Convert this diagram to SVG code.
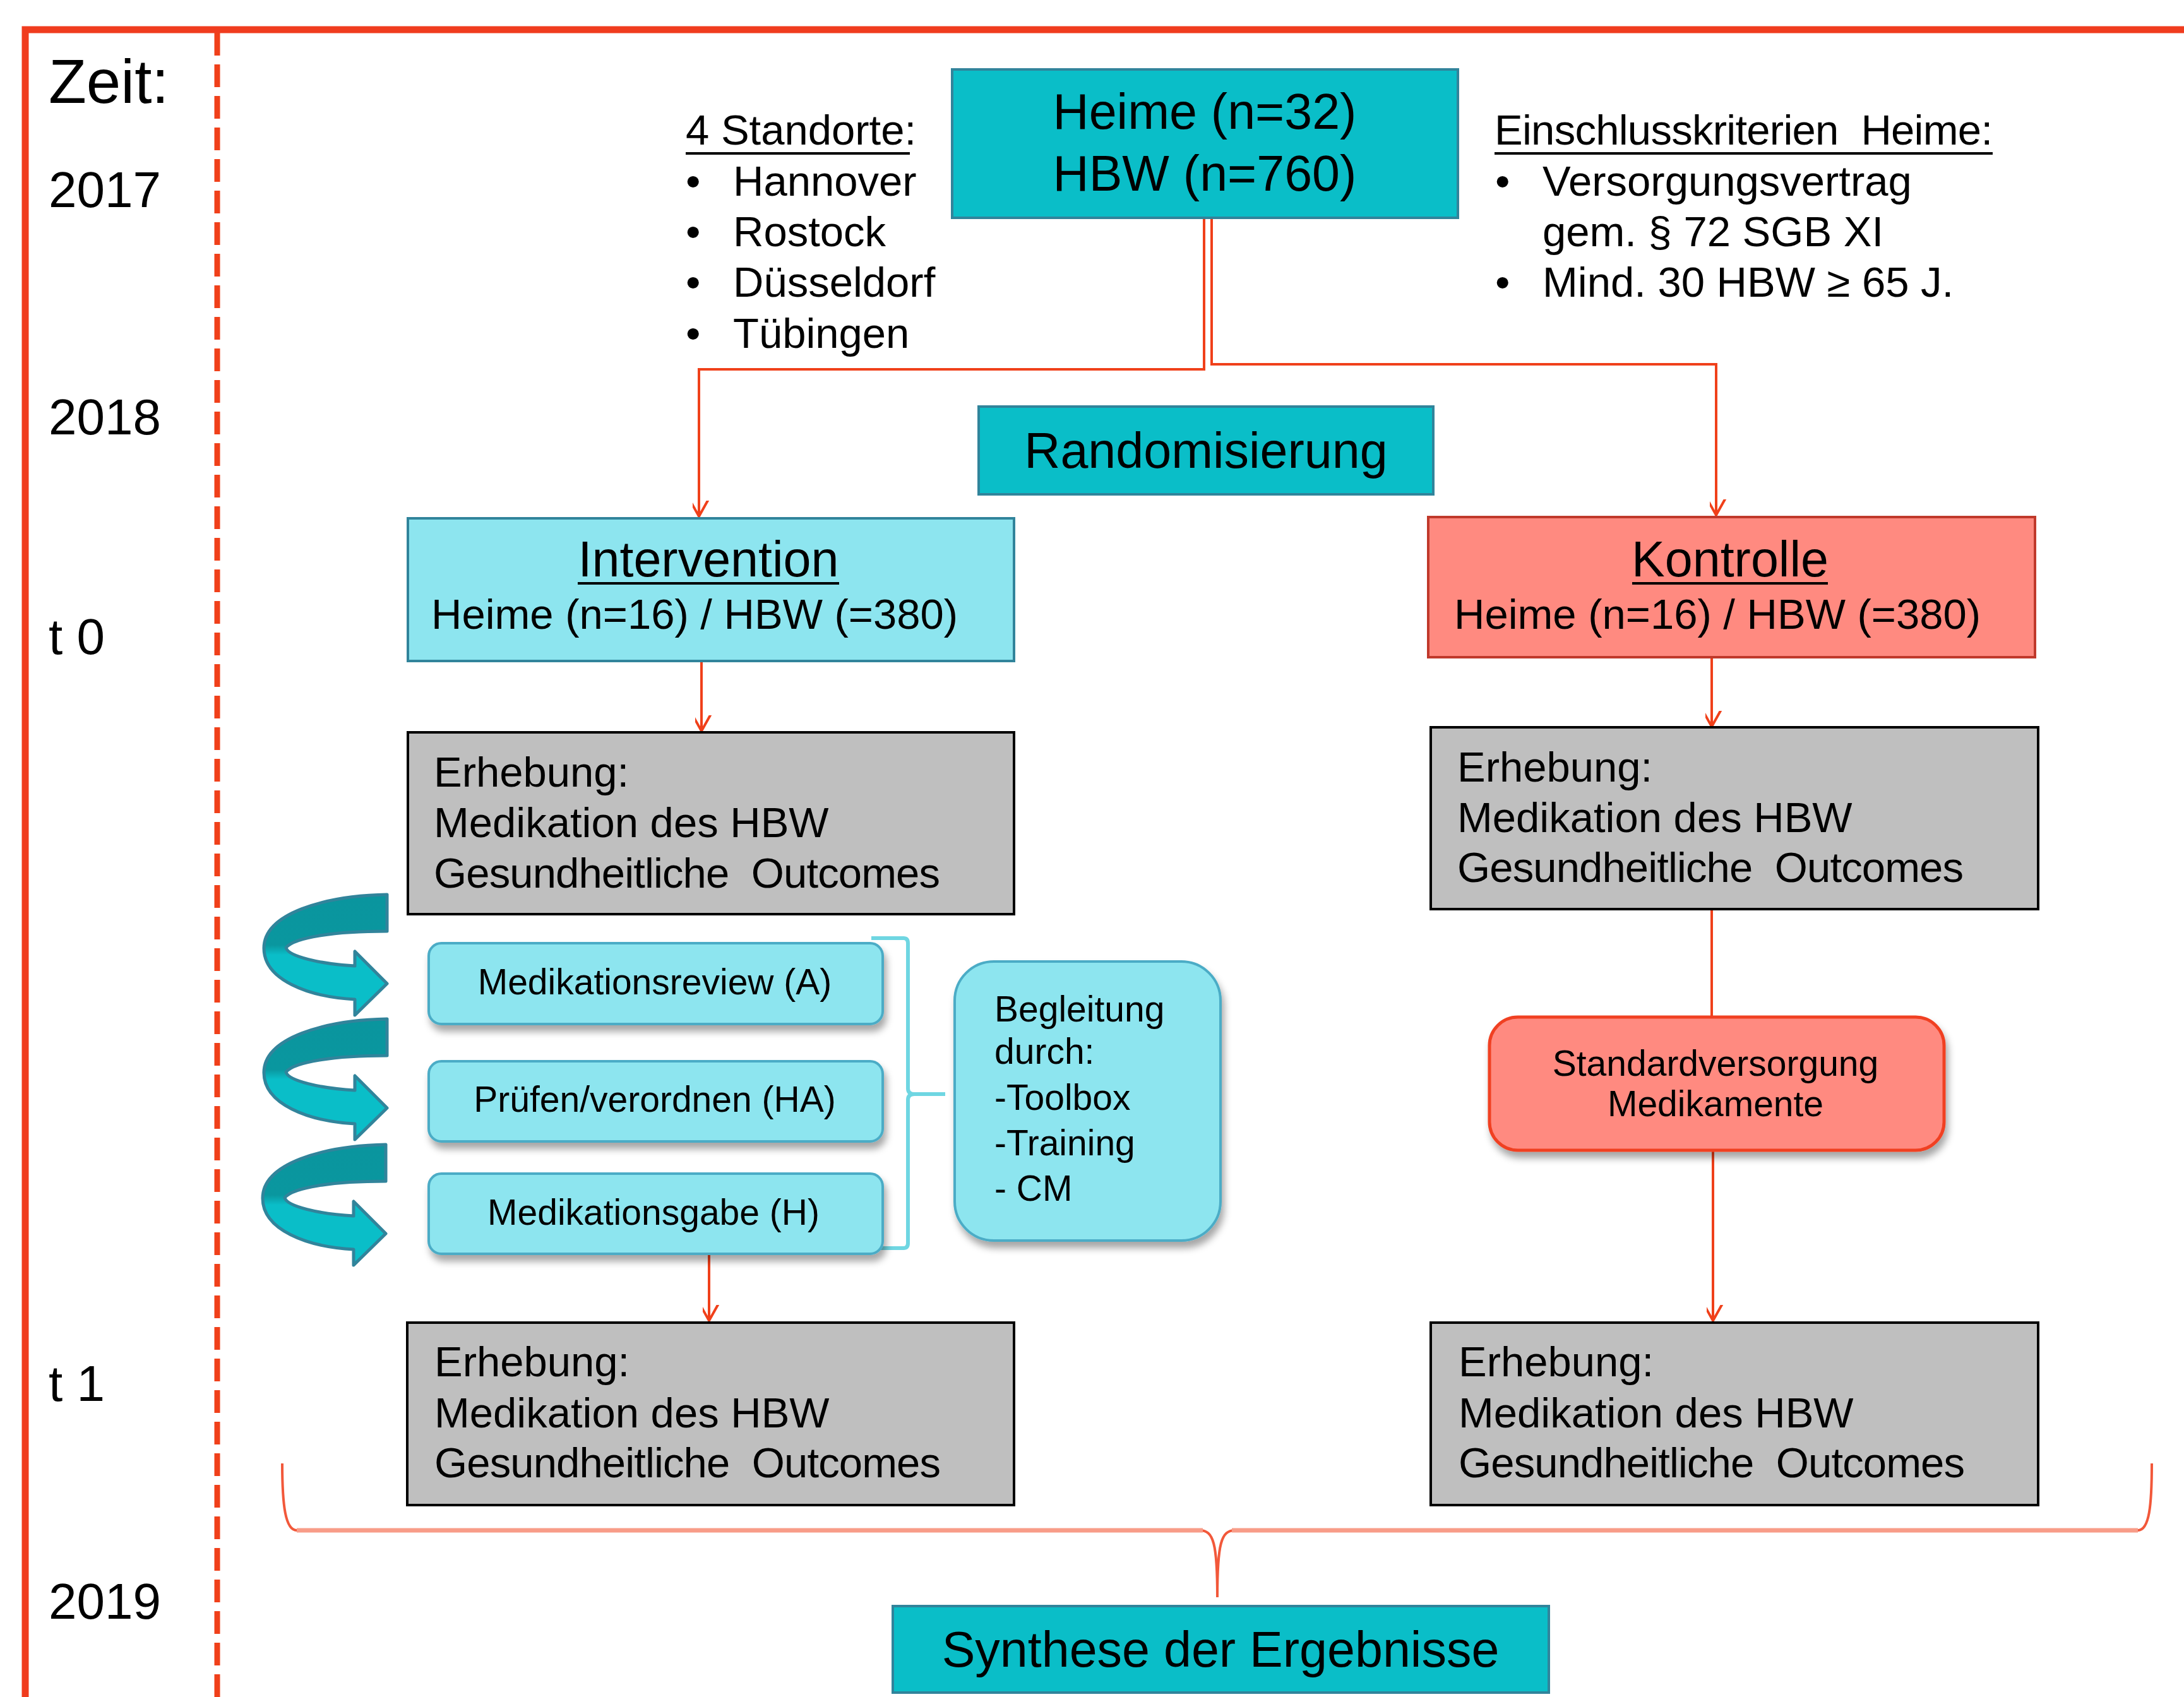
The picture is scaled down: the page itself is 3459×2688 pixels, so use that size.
<svg xmlns="http://www.w3.org/2000/svg" width="3459" height="2688" viewBox="0 0 3459 2688" xml:space="preserve">
<style>
text{font-family:"Liberation Sans",Arial,sans-serif;fill:#000;white-space:pre}
.yr{font-size:80px}
.big{font-size:79px}
.mid{font-size:67px}
.sm{font-size:57px}
.mc{text-anchor:middle}
.teal{fill:#0ABEC8;stroke:#31849B;stroke-width:4}
.grey{fill:#BFBFBF;stroke:#000;stroke-width:4}
.lt{fill:#8DE5EF;stroke:#31849B;stroke-width:4}
.rnd{fill:#8DE5EF;stroke:#4BACC6;stroke-width:4}
.con{fill:none;stroke:#F0401A;stroke-width:4}
.ul{stroke:#000;stroke-width:4}
</style>
<defs>
<marker id="ah" markerUnits="userSpaceOnUse" markerWidth="50" markerHeight="50" viewBox="-25 -40 50 50" refX="0" refY="0" orient="auto-start-reverse">
<path d="M-20,-36 L0,0 L20,-36" fill="none" stroke="#F0401A" stroke-width="4" transform="rotate(-90)"/>
</marker>
<filter id="sh" x="-10%" y="-10%" width="130%" height="140%">
<feDropShadow dx="4" dy="10" stdDeviation="6" flood-color="#000" flood-opacity="0.35"/>
</filter>
<linearGradient id="ag" x1="0" y1="0" x2="0" y2="1">
<stop offset="0" stop-color="#0A959E"/>
<stop offset="0.42" stop-color="#0A979F"/>
<stop offset="0.5" stop-color="#0ABEC8"/>
<stop offset="1" stop-color="#0ABEC8"/>
</linearGradient>
<path id="carrow" d="M195,0 C95,2 0,30 0,85 C0,135 70,162 144,166 L144,191 L195,141 L144,90 L144,113 C90,110 38,98 35,84 C48,68 110,58 195,58 Z" fill="url(#ag)" stroke="#31849B" stroke-width="5" stroke-linejoin="round"/>
</defs>
<rect width="3459" height="2688" fill="#fff"/>

<g id="frame">
<path d="M40,2688 V47 H3459" fill="none" stroke="#F03C1E" stroke-width="11"/>
<line x1="344" y1="52" x2="344" y2="2688" stroke="#F0401A" stroke-width="9" stroke-dasharray="36 14"/>
</g>

<g id="timeline">
<text x="77" y="163" style="font-size:98px">Zeit:</text>
<text class="yr" x="77" y="328">2017</text>
<text class="yr" x="77" y="688">2018</text>
<text class="yr" x="77" y="1036">t 0</text>
<text class="yr" x="77" y="2219">t 1</text>
<text class="yr" x="77" y="2564">2019</text>
</g>

<g id="connectors">
<path class="con" d="M1907,345 V585 H1107 V818" marker-end="url(#ah)"/>
<path class="con" d="M1919,345 V577 H2718 V816" marker-end="url(#ah)"/>
<path class="con" d="M1111,1047 V1158" marker-end="url(#ah)"/>
<path class="con" d="M2711,1041 V1151" marker-end="url(#ah)"/>
<path class="con" d="M2711,1440 V1611"/>
<path class="con" d="M2713,1822 V2092" marker-end="url(#ah)"/>
<path class="con" d="M1123,1986 V2092" marker-end="url(#ah)"/>
<path d="M1380,1486 H1431 Q1438,1486 1438,1494 V1724 Q1438,1733 1448,1733 H1497 M1448,1733 Q1438,1733 1438,1742 V1969 Q1438,1977 1431,1977 H1380" fill="none" stroke="#6FD6E2" stroke-width="6"/>
<path d="M447,2318 C447,2385 452,2424 470,2424 H1900 C1922,2424 1928,2445 1928,2530 C1928,2445 1934,2424 1956,2424 H3386 C3404,2424 3408,2385 3408,2318" fill="none" stroke="#F2583A" stroke-width="4"/>
<path d="M470,2424 H1905 M1951,2424 H3386" fill="none" stroke="#F89C88" stroke-width="7"/>
</g>

<g id="standorte">
<text class="mid" x="1086" y="229">4 Standorte:</text>
<line class="ul" x1="1086" y1="243" x2="1441" y2="243"/>
<text class="mid" x="1086" y="310">•</text><text class="mid" x="1161" y="310">Hannover</text>
<text class="mid" x="1086" y="390">•</text><text class="mid" x="1161" y="390">Rostock</text>
<text class="mid" x="1086" y="470">•</text><text class="mid" x="1161" y="470">Düsseldorf</text>
<text class="mid" x="1086" y="551">•</text><text class="mid" x="1161" y="551">Tübingen</text>
</g>

<g id="kriterien">
<text class="mid" x="2367" y="229" textLength="789" lengthAdjust="spacing">Einschlusskriterien  Heime:</text>
<line class="ul" x1="2367" y1="243" x2="3156" y2="243"/>
<text class="mid" x="2368" y="310">•</text><text class="mid" x="2443" y="310">Versorgungsvertrag</text>
<text class="mid" x="2443" y="390">gem. § 72 SGB XI</text>
<text class="mid" x="2368" y="470">•</text><text class="mid" x="2443" y="470">Mind. 30 HBW ≥ 65 J.</text>
</g>

<g id="heime">
<rect class="teal" x="1508" y="110" width="801" height="235"/>
<text class="big mc" x="1908" y="204">Heime (n=32)</text>
<text class="big mc" x="1908" y="302">HBW (n=760)</text>
</g>

<g id="randomisierung">
<rect class="teal" x="1550" y="644" width="720" height="139"/>
<text class="big mc" x="1910" y="741">Randomisierung</text>
</g>

<g id="intervention">
<rect class="lt" x="646" y="821" width="960" height="226"/>
<text class="big mc" x="1122" y="913">Intervention</text>
<line class="ul" x1="915" y1="924" x2="1329" y2="924"/>
<text class="mid" x="683" y="996">Heime (n=16) / HBW (=380)</text>
</g>

<g id="kontrolle">
<rect x="2262" y="819" width="961" height="222" fill="#FF8A80" stroke="#C0392B" stroke-width="4"/>
<text class="big mc" x="2740" y="913">Kontrolle</text>
<line class="ul" x1="2585" y1="924" x2="2895" y2="924"/>
<text class="mid" x="2303" y="996">Heime (n=16) / HBW (=380)</text>
</g>

<g id="erhebung-i-t0">
<rect class="grey" x="646" y="1160" width="960" height="288"/>
<text class="mid" x="687" y="1246">Erhebung:</text>
<text class="mid" x="687" y="1326">Medikation des HBW</text>
<text class="mid" x="687" y="1406" textLength="802" lengthAdjust="spacing">Gesundheitliche  Outcomes</text>
</g>

<g id="erhebung-k-t0">
<rect class="grey" x="2266" y="1152" width="962" height="288"/>
<text class="mid" x="2308" y="1238">Erhebung:</text>
<text class="mid" x="2308" y="1318">Medikation des HBW</text>
<text class="mid" x="2308" y="1397" textLength="802" lengthAdjust="spacing">Gesundheitliche  Outcomes</text>
</g>

<g id="kreislauf">
<use href="#carrow" x="418" y="1417"/>
<use href="#carrow" x="418" y="1614"/>
<use href="#carrow" x="416" y="1813"/>
</g>

<g id="medikationsreview">
<rect class="rnd" x="679" y="1494" width="719" height="128" rx="20" filter="url(#sh)"/>
<text class="sm mc" x="1037" y="1575">Medikationsreview (A)</text>
</g>
<g id="pruefen">
<rect class="rnd" x="679" y="1681" width="719" height="127" rx="20" filter="url(#sh)"/>
<text class="sm mc" x="1037" y="1761">Prüfen/verordnen (HA)</text>
</g>
<g id="medikationsgabe">
<rect class="rnd" x="679" y="1859" width="719" height="127" rx="20" filter="url(#sh)"/>
<text class="sm mc" x="1035" y="1940">Medikationsgabe (H)</text>
</g>

<g id="begleitung">
<rect class="rnd" x="1512" y="1523" width="421" height="442" rx="62" filter="url(#sh)"/>
<text class="sm" x="1575" y="1618">Begleitung</text>
<text class="sm" x="1575" y="1685">durch:</text>
<text class="sm" x="1575" y="1758">-Toolbox</text>
<text class="sm" x="1575" y="1830">-Training</text>
<text class="sm" x="1575" y="1902">- CM</text>
</g>

<g id="standardversorgung">
<rect x="2359" y="1611" width="720" height="211" rx="45" fill="#FF8A80" stroke="#F04020" stroke-width="5" filter="url(#sh)"/>
<text class="sm mc" x="2717" y="1704">Standardversorgung</text>
<text class="sm mc" x="2717" y="1768">Medikamente</text>
</g>

<g id="erhebung-i-t1">
<rect class="grey" x="645" y="2095" width="961" height="289"/>
<text class="mid" x="688" y="2180">Erhebung:</text>
<text class="mid" x="688" y="2261">Medikation des HBW</text>
<text class="mid" x="688" y="2340" textLength="802" lengthAdjust="spacing">Gesundheitliche  Outcomes</text>
</g>

<g id="erhebung-k-t1">
<rect class="grey" x="2266" y="2095" width="962" height="289"/>
<text class="mid" x="2310" y="2180">Erhebung:</text>
<text class="mid" x="2310" y="2261">Medikation des HBW</text>
<text class="mid" x="2310" y="2340" textLength="802" lengthAdjust="spacing">Gesundheitliche  Outcomes</text>
</g>

<g id="synthese">
<rect class="teal" x="1414" y="2544" width="1039" height="137"/>
<text class="big mc" x="1933" y="2640">Synthese der Ergebnisse</text>
</g>
</svg>
